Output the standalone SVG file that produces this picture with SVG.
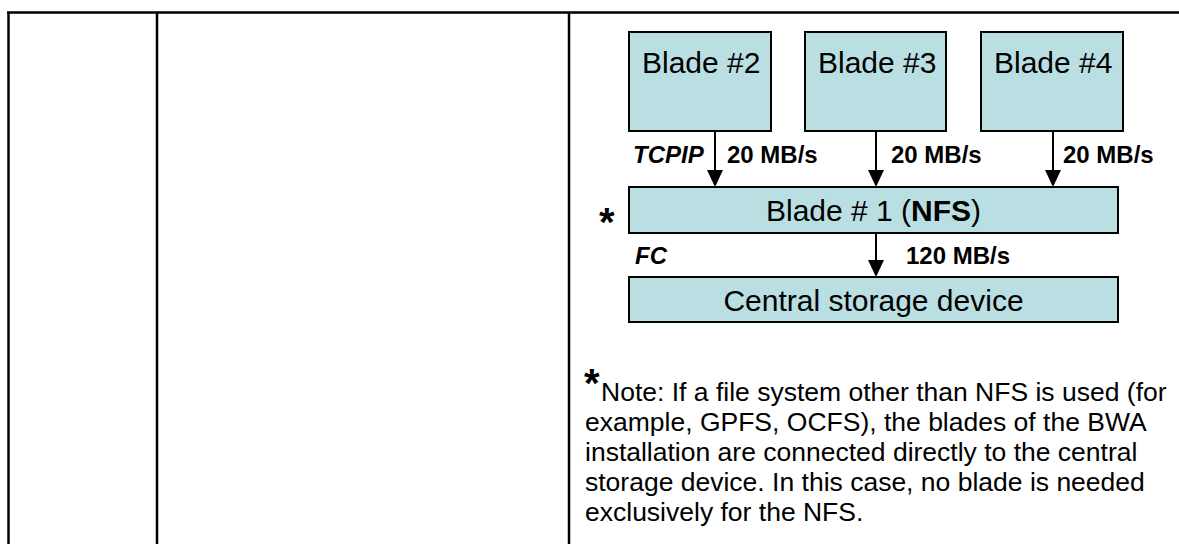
<svg xmlns="http://www.w3.org/2000/svg" width="1179" height="544" viewBox="0 0 1179 544">
<style>
.tbl{stroke:#000;stroke-width:2.5;fill:none}
.box{fill:#badfe2;stroke:#000;stroke-width:2}
.bt{font-family:"Liberation Sans",Arial,sans-serif;font-size:30px;fill:#000}
.lbl{font-family:"Liberation Sans",Arial,sans-serif;font-size:24px;font-weight:bold;fill:#000}
.it{font-style:italic}
.note{font-family:"Liberation Sans",Arial,sans-serif;font-size:26.5px;fill:#000}
.star{font-family:"Liberation Sans",Arial,sans-serif;font-size:40px;font-weight:bold;fill:#000}
.con{stroke:#000;stroke-width:2;fill:none}
.head{fill:#000}
</style>
<g id="table">
<line class="tbl" x1="7" y1="12.5" x2="1179" y2="12.5"/>
<line class="tbl" x1="8.5" y1="12" x2="8.5" y2="544"/>
<line class="tbl" x1="157" y1="12" x2="157" y2="544"/>
<line class="tbl" x1="569" y1="12" x2="569" y2="544"/>
</g>
<g id="blade2"><rect class="box" x="629" y="32" width="142" height="99"/><text class="bt" x="642" y="73">Blade #2</text></g>
<g id="blade3"><rect class="box" x="805" y="32" width="141" height="99"/><text class="bt" x="818" y="73">Blade #3</text></g>
<g id="blade4"><rect class="box" x="981" y="32" width="142" height="99"/><text class="bt" x="994" y="73">Blade #4</text></g>
<g id="blade1"><rect class="box" x="629" y="187" width="489" height="46"/><text class="bt" x="873.5" y="221" text-anchor="middle">Blade # 1 (<tspan font-weight="bold">NFS</tspan>)</text></g>
<g id="storage"><rect class="box" x="629" y="277" width="489" height="45"/><text class="bt" x="873.5" y="311" text-anchor="middle">Central storage device</text></g>
<g id="connectors">
<line class="con" x1="715" y1="131" x2="715" y2="170"/><path class="head" d="M707,170 L723,170 L715,187 Z"/>
<line class="con" x1="876" y1="131" x2="876" y2="170"/><path class="head" d="M868,170 L884,170 L876,187 Z"/>
<line class="con" x1="1053" y1="131" x2="1053" y2="170"/><path class="head" d="M1045,170 L1061,170 L1053,187 Z"/>
<line class="con" x1="876" y1="233" x2="876" y2="260"/><path class="head" d="M868,260 L884,260 L876,277 Z"/>
</g>
<g id="labels">
<text class="lbl it" x="633" y="163">TCPIP</text>
<text class="lbl" x="727" y="163">20 MB/s</text>
<text class="lbl" x="891" y="163">20 MB/s</text>
<text class="lbl" x="1063" y="163">20 MB/s</text>
<text class="lbl it" x="635" y="264">FC</text>
<text class="lbl" x="906" y="264">120 MB/s</text>
<text class="star" x="599" y="236" font-size="46">*</text>
</g>
<g id="note">
<text class="star" x="584" y="397">*</text>
<text class="note" x="601" y="401">Note: If a file system other than NFS is used (for</text>
<text class="note" x="585" y="431">example, GPFS, OCFS), the blades of the BWA</text>
<text class="note" x="585" y="461">installation are connected directly to the central</text>
<text class="note" x="585" y="491">storage device. In this case, no blade is needed</text>
<text class="note" x="585" y="521">exclusively for the NFS.</text>
</g>
</svg>
